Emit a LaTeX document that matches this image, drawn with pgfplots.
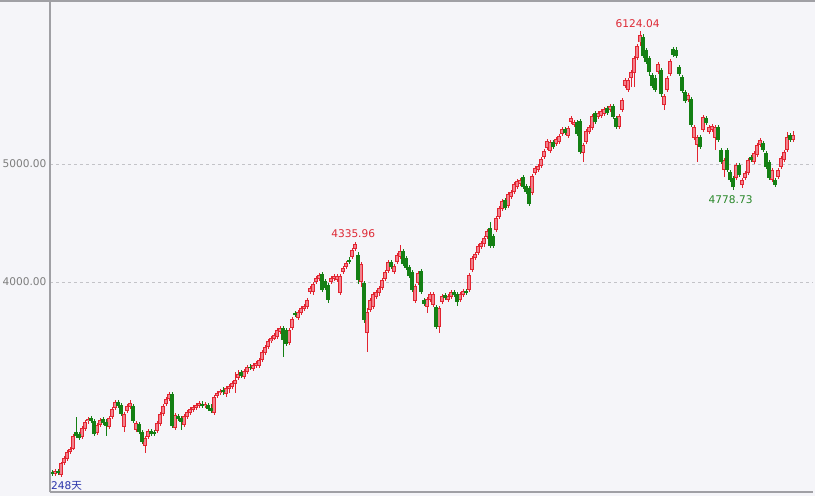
\documentclass[border=0pt]{standalone}
\usepackage{fontspec}
\setmainfont{DejaVu Sans}
\newfontfamily\cjk{Noto Sans CJK SC}
\usepackage{pgfplots}
\usepackage{pgfplotstable}
\pgfplotsset{compat=1.18}

\definecolor{bgcol}{RGB}{245,245,249}
\definecolor{kred}{RGB}{226,36,48}
\definecolor{kpink}{RGB}{242,128,140}
\definecolor{kgreen}{RGB}{20,128,20}
\definecolor{tickgray}{RGB}{125,125,125}
\definecolor{gridgray}{RGB}{195,195,200}
\definecolor{framegray}{RGB}{160,160,165}
\definecolor{txtred}{RGB}{222,40,52}
\definecolor{txtgreen}{RGB}{40,135,40}
\definecolor{txtblue}{RGB}{40,50,170}

% daily candles: index, open, high, low, close
\pgfplotstableread{
i o h l c
0 2390 2407 2356 2373
1 2373 2415 2356 2398
2 2398 2415 2364 2381
3 2364 2475 2347 2466
4 2466 2525 2449 2508
5 2500 2576 2483 2559
6 2559 2602 2542 2585
7 2585 2712 2576 2695
8 2729 2856 2678 2695
9 2712 2729 2661 2678
10 2686 2780 2669 2763
11 2754 2831 2737 2814
12 2822 2856 2797 2839
13 2847 2864 2805 2822
14 2822 2839 2695 2712
15 2720 2805 2703 2788
16 2788 2847 2771 2831
17 2839 2856 2788 2805
18 2814 2839 2695 2780
19 2771 2864 2754 2847
20 2856 2941 2839 2924
21 2932 3000 2915 2983
22 2983 3000 2932 2949
23 2958 2975 2864 2881
24 2771 2898 2729 2881
25 2907 2966 2890 2949
26 2941 3000 2924 2975
27 2949 2966 2805 2822
28 2746 2822 2729 2805
29 2797 2814 2712 2729
30 2729 2746 2627 2644
31 2610 2695 2551 2678
32 2686 2754 2669 2737
33 2737 2754 2695 2712
34 2729 2746 2695 2712
35 2737 2822 2720 2805
36 2797 2898 2780 2881
37 2881 2966 2864 2949
38 2966 3025 2949 3008
39 3008 3068 2992 3051
40 3051 3068 2763 2780
41 2763 2890 2746 2873
42 2864 2881 2822 2839
43 2847 2864 2746 2814
44 2788 2881 2771 2864
45 2856 2915 2839 2898
46 2890 2941 2873 2924
47 2915 2958 2898 2941
48 2932 2975 2915 2958
49 2949 2992 2932 2975
50 2966 2992 2932 2949
51 2949 2983 2932 2966
52 2958 2975 2907 2924
53 2932 2966 2890 2907
54 2890 3042 2873 3025
55 3034 3076 3017 3059
56 3059 3093 3042 3076
57 3085 3110 3042 3068
58 3051 3119 3025 3102
59 3093 3136 3059 3119
60 3110 3161 3093 3144
61 3136 3237 3059 3170
62 3186 3254 3170 3220
63 3237 3254 3186 3203
64 3195 3263 3178 3246
65 3237 3297 3220 3280
66 3280 3305 3254 3271
67 3263 3314 3246 3297
68 3288 3330 3271 3314
69 3288 3356 3271 3339
70 3339 3424 3322 3407
71 3398 3466 3381 3449
72 3449 3517 3432 3500
73 3500 3542 3483 3525
74 3517 3568 3508 3551
75 3534 3610 3517 3593
76 3576 3627 3559 3610
77 3610 3627 3364 3508
78 3593 3610 3458 3475
79 3483 3610 3466 3593
80 3610 3703 3593 3686
81 3737 3754 3703 3720
82 3695 3763 3678 3746
83 3737 3797 3720 3780
84 3771 3814 3754 3797
85 3788 3864 3771 3848
86 3915 3966 3898 3949
87 3915 4000 3890 3983
88 4000 4051 3983 4034
89 4025 4076 4008 4059
90 4068 4085 3915 3932
91 4008 4025 3932 3949
92 3975 3992 3822 3848
93 4000 4051 3983 4034
94 4025 4068 4008 4051
95 4017 4068 4000 4051
96 3907 4068 3890 4051
97 4085 4136 4068 4119
98 4127 4178 4110 4161
99 4186 4212 4153 4170
100 4212 4288 4195 4271
101 4280 4335.96 4263 4322
102 4229 4254 3983 4017
103 4000 4170 3958 4153
104 3992 4008 3653 3678
105 3568 3780 3407 3746
106 3763 3864 3746 3848
107 3788 3915 3771 3898
108 3873 3932 3856 3915
109 3907 3966 3881 3949
110 3949 4034 3932 4017
111 4025 4102 4008 4085
112 4093 4186 4076 4170
113 4170 4186 4110 4127
114 4085 4153 4068 4136
115 4170 4246 4153 4229
116 4212 4314 4195 4263
117 4263 4280 4136 4153
118 4203 4220 4102 4119
119 4127 4144 4034 4051
120 4085 4102 3915 3932
121 3839 3983 3822 3966
122 3992 4093 3975 4076
123 4093 4110 3898 3915
124 3848 3864 3797 3814
125 3788 3873 3737 3856
126 3848 3915 3831 3898
127 3805 3915 3788 3898
128 3788 3805 3602 3619
129 3619 3797 3568 3780
130 3831 3898 3814 3881
131 3890 3907 3848 3864
132 3848 3898 3831 3881
133 3873 3932 3856 3915
134 3915 3932 3873 3890
135 3898 3915 3797 3831
136 3848 3915 3831 3898
137 3890 3941 3873 3924
138 3924 3941 3890 3907
139 3932 4076 3915 4059
140 4102 4220 4085 4203
141 4203 4254 4186 4237
142 4246 4322 4229 4305
143 4297 4347 4280 4331
144 4322 4390 4297 4373
145 4381 4449 4364 4432
146 4458 4509 4288 4305
147 4390 4407 4288 4305
148 4441 4559 4424 4542
149 4551 4644 4534 4627
150 4619 4703 4602 4687
151 4695 4712 4610 4627
152 4644 4763 4627 4746
153 4720 4780 4703 4763
154 4763 4848 4746 4831
155 4805 4873 4788 4856
156 4831 4881 4814 4864
157 4890 4907 4788 4805
158 4814 4831 4746 4763
159 4797 4814 4644 4661
160 4754 4915 4737 4898
161 4924 4983 4907 4966
162 4949 5000 4932 4983
163 4983 5059 4966 5042
164 5059 5127 5042 5110
165 5136 5212 5119 5195
166 5110 5203 5093 5186
167 5186 5203 5127 5144
168 5170 5229 5153 5212
169 5186 5254 5170 5237
170 5254 5314 5237 5297
171 5297 5314 5246 5263
172 5237 5322 5220 5305
173 5356 5407 5339 5390
174 5331 5373 5314 5356
175 5356 5373 5237 5254
176 5364 5381 5085 5102
177 5093 5178 5017 5161
178 5186 5297 5170 5280
179 5271 5331 5254 5314
180 5305 5424 5288 5407
181 5432 5449 5339 5356
182 5398 5449 5381 5432
183 5407 5466 5390 5449
184 5424 5483 5407 5466
185 5475 5492 5415 5432
186 5458 5509 5441 5492
187 5492 5509 5381 5398
188 5390 5407 5297 5314
189 5314 5424 5297 5407
190 5458 5559 5441 5542
191 5661 5729 5644 5712
192 5627 5729 5610 5712
193 5729 5797 5653 5780
194 5771 5915 5653 5898
195 5898 6017 5881 6000
196 6030 6124.04 6000 6090
197 6080 6100 5898 5915
198 5966 5983 5848 5865
199 5898 5915 5746 5780
200 5754 5771 5644 5661
201 5729 5754 5610 5627
202 5780 5865 5763 5848
203 5797 5814 5568 5593
204 5500 5593 5458 5576
205 5627 5746 5610 5729
206 5763 5890 5746 5873
207 5975 5992 5907 5924
208 5966 5992 5898 5915
209 5822 5839 5746 5763
210 5737 5754 5602 5619
211 5610 5627 5517 5534
212 5542 5602 5526 5585
213 5551 5568 5314 5331
214 5220 5331 5203 5314
215 5161 5246 5017 5229
216 5229 5246 5127 5144
217 5288 5415 5271 5398
218 5390 5407 5331 5348
219 5271 5331 5254 5314
220 5288 5339 5271 5322
221 5220 5331 5119 5314
222 5314 5331 5186 5203
223 5119 5136 5000 5017
224 4949 5051 4890 5034
225 5119 5136 4932 4949
226 4932 4949 4848 4864
227 4881 4898 4778.73 4805
228 4881 5008 4864 4992
229 4992 5008 4890 4907
230 4822 4881 4797 4864
231 4881 4941 4864 4924
232 4924 5051 4907 5034
233 5059 5076 5017 5034
234 5017 5110 5000 5093
235 5076 5178 5059 5161
236 5161 5220 5144 5203
237 5178 5195 5102 5119
238 5093 5110 4958 4975
239 5017 5034 4864 4881
240 4864 4966 4848 4949
241 4864 4881 4805 4822
242 4890 4966 4873 4949
243 4975 5068 4958 5051
244 5034 5119 5017 5102
245 5119 5271 5102 5229
246 5246 5263 5186 5203
247 5203 5280 5186 5246
}\kdata

\pgfplotsset{
  candle/.style 2 args={draw=none, mark=none, forget plot,
    error bars/.cd, y dir=both, y explicit, error mark=none,
    error bar style={draw=#1, line width=#2, line cap=butt}},
}

\begin{document}
\begin{tikzpicture}[x=1pt,y=1pt]
\fill[bgcol] (0,0) rectangle (815,496);
\draw[framegray, line width=1.5pt] (0,495.2) -- (815,495.2);
\begin{axis}[
  at={(50pt,4pt)}, anchor=south west,
  scale only axis, width=763pt, height=490pt,
  xmin=-0.667, xmax=253.67,
  ymin=2220, ymax=6373,
  xtick=\empty,
  ytick={4000,5000},
  yticklabel={\pgfmathprintnumber[fixed,fixed zerofill,precision=2,1000 sep={}]{\tick}},
  /pgf/number format/assume math mode=true,
  yticklabel style={font=\fontsize{10.6}{12}\selectfont, text=tickgray},
  major tick length=0pt,
  ymajorgrids,
  grid style={draw=gridgray, line width=0.8pt, dash pattern=on 3pt off 3pt},
  axis line style={draw=none},
  axis background/.style={fill=bgcol},
  clip=false,
]
% wicks
\addplot[candle={kred}{0.8pt}] table[x=i, y expr={(\thisrow{h}+\thisrow{l})/2},
  y error expr={(\thisrow{h}-\thisrow{l})/2},
  restrict expr to domain={\thisrow{c}-\thisrow{o}}{0:100000}] {\kdata};
\addplot[candle={kgreen}{0.8pt}] table[x=i, y expr={(\thisrow{h}+\thisrow{l})/2},
  y error expr={(\thisrow{h}-\thisrow{l})/2},
  restrict expr to domain={\thisrow{c}-\thisrow{o}}{-100000:-0.001}] {\kdata};
% bodies
\addplot[candle={kred}{3.2pt}] table[x=i, y expr={(\thisrow{o}+\thisrow{c})/2},
  y error expr={abs(\thisrow{c}-\thisrow{o})/2},
  restrict expr to domain={\thisrow{c}-\thisrow{o}}{0:100000}] {\kdata};
\addplot[candle={kpink}{1.2pt}] table[x=i, y expr={(\thisrow{o}+\thisrow{c})/2},
  y error expr={abs(\thisrow{c}-\thisrow{o})/2-7},
  restrict expr to domain={\thisrow{c}-\thisrow{o}}{0:100000}] {\kdata};
\addplot[candle={kgreen}{3.2pt}] table[x=i, y expr={(\thisrow{o}+\thisrow{c})/2},
  y error expr={abs(\thisrow{c}-\thisrow{o})/2},
  restrict expr to domain={\thisrow{c}-\thisrow{o}}{-100000:-0.001}] {\kdata};

\draw[framegray, line width=1.6pt] (rel axis cs:0,0) -- (rel axis cs:0,1);
\draw[framegray, line width=1.2pt] (rel axis cs:0,0) -- (rel axis cs:1,0);

\node[anchor=south, inner sep=0pt, yshift=3.5pt, text=txtred,
  font=\fontsize{10.6}{12}\selectfont] at (axis cs:195.2,6124.04) {6124.04};
\node[anchor=south, inner sep=0pt, yshift=4pt, text=txtred,
  font=\fontsize{10.6}{12}\selectfont] at (axis cs:100.4,4335.96) {4335.96};
\node[anchor=north, inner sep=0pt, yshift=-5pt, text=txtgreen,
  font=\fontsize{10.6}{12}\selectfont] at (axis cs:226.2,4778.73) {4778.73};
\node[anchor=base west, inner sep=0pt, text=txtblue, xshift=1pt, yshift=2.5pt,
  font=\fontsize{10.6}{12}\selectfont] at (rel axis cs:0,0) {248{\cjk 天}};
\end{axis}
\pgfresetboundingbox
\useasboundingbox (0,0) rectangle (815,496);
\end{tikzpicture}
\end{document}
